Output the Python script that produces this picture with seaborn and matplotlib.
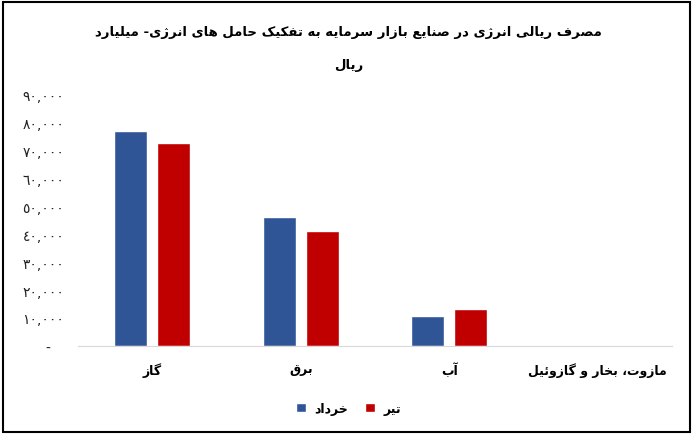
#! /usr/bin/env python
import matplotlib
matplotlib.use('Agg')
import matplotlib.pyplot as plt
import matplotlib.ticker as ticker
from matplotlib.patches import Rectangle, Patch
import seaborn as sns
import pandas as pd

# data (billion rials)
categories = ['گاز', 'برق', 'آب', 'مازوت، بخار و گازوئیل']
months = ['خرداد', 'تیر']
khordad = [77100, 46300, 10800, 0]
tir = [72700, 41100, 13200, 0]
title_lines = ['مصرف ریالی انرژی در صنایع بازار سرمایه به تفکیک حامل های انرژی- میلیارد', 'ریال']
colors = ['#2F5597', '#C00000']

# minimal arabic shaping (matplotlib has no complex text layout)
# letter: (isolated, final, initial, medial); right-joining letters have no initial/medial
FORMS = {
    'ا': ('\uFE8D', '\uFE8E', None, None),
    'آ': ('\uFE81', '\uFE82', None, None),
    'ب': ('\uFE8F', '\uFE90', '\uFE91', '\uFE92'),
    'ت': ('\uFE95', '\uFE96', '\uFE97', '\uFE98'),
    'ح': ('\uFEA1', '\uFEA2', '\uFEA3', '\uFEA4'),
    'خ': ('\uFEA5', '\uFEA6', '\uFEA7', '\uFEA8'),
    'د': ('\uFEA9', '\uFEAA', None, None),
    'ر': ('\uFEAD', '\uFEAE', None, None),
    'ز': ('\uFEAF', '\uFEB0', None, None),
    'ژ': ('\uFB8A', '\uFB8B', None, None),
    'س': ('\uFEB1', '\uFEB2', '\uFEB3', '\uFEB4'),
    'ص': ('\uFEB9', '\uFEBA', '\uFEBB', '\uFEBC'),
    'ع': ('\uFEC9', '\uFECA', '\uFECB', '\uFECC'),
    'ف': ('\uFED1', '\uFED2', '\uFED3', '\uFED4'),
    'ق': ('\uFED5', '\uFED6', '\uFED7', '\uFED8'),
    'ک': ('\uFB8E', '\uFB8F', '\uFB90', '\uFB91'),
    'گ': ('\uFB92', '\uFB93', '\uFB94', '\uFB95'),
    'ل': ('\uFEDD', '\uFEDE', '\uFEDF', '\uFEE0'),
    'م': ('\uFEE1', '\uFEE2', '\uFEE3', '\uFEE4'),
    'ن': ('\uFEE5', '\uFEE6', '\uFEE7', '\uFEE8'),
    'ه': ('\uFEE9', '\uFEEA', '\uFEEB', '\uFEEC'),
    'و': ('\uFEED', '\uFEEE', None, None),
    'ی': ('\uFBFC', '\uFBFD', '\uFBFE', '\uFBFF'),
    'ئ': ('\uFE89', '\uFE8A', '\uFE8B', '\uFE8C'),
}


def rtl(text):
    out = []
    for i, ch in enumerate(text):
        if ch not in FORMS:
            out.append(ch)
            continue
        iso, fin, ini, med = FORMS[ch]
        prev = text[i - 1] if i > 0 else ''
        nxt = text[i + 1] if i < len(text) - 1 else ''
        jp = prev in FORMS and FORMS[prev][2] is not None
        jn = ini is not None and nxt in FORMS
        if jp and jn:
            out.append(med)
        elif jp:
            out.append(fin)
        elif jn:
            out.append(ini)
        else:
            out.append(iso)
    return ''.join(out)[::-1]


def fa_num(v, pos):
    if v == 0:
        return '-   '
    return f'{int(v):,}'.translate(str.maketrans('0123456789', '٠١٢٣٤٥٦٧٨٩'))


df = pd.DataFrame({
    'cat': categories * 2,
    'month': [months[0]] * len(categories) + [months[1]] * len(categories),
    'value': khordad + tir,
})

sns.set_style('white')
plt.rcParams['font.family'] = ['DejaVu Sans']
plt.rcParams['text.color'] = 'black'
fig = plt.figure(figsize=(6.97, 4.39), dpi=100)
ax = fig.add_axes([0.112, 0.21, 0.852, 0.572])

sns.barplot(data=df, x='cat', y='value', hue='month', order=categories, hue_order=months,
            palette=colors, width=0.58, gap=0.23, saturation=1, ax=ax, legend=False)

ax.set_ylim(0, 90000)
ax.yaxis.set_major_locator(ticker.MultipleLocator(10000))
ax.yaxis.set_major_formatter(ticker.FuncFormatter(fa_num))
ax.set_xticks(range(len(categories)))
ax.set_xticklabels([rtl(c) for c in categories], fontweight='bold', fontsize=9)
ax.tick_params(axis='y', length=0, pad=10, labelsize=10, colors='#222222')
ax.tick_params(axis='x', length=0, pad=12, colors='black')
ax.set_xlabel('')
ax.set_ylabel('')
for s in ['left', 'top', 'right']:
    ax.spines[s].set_visible(False)
ax.spines['bottom'].set_color('#d9d9d9')

# title in two lines
fig.text(0.5, 0.925, rtl(title_lines[0]), ha='center', va='center', fontsize=9.5, fontweight='bold')
fig.text(0.5, 0.85, rtl(title_lines[1]), ha='center', va='center', fontsize=9.5, fontweight='bold')

handles = [Patch(facecolor=c) for c in colors]
fig.legend(handles, [rtl(m) for m in months], loc='center', bbox_to_anchor=(0.5, 0.068), ncol=2,
           frameon=False, handlelength=0.8, handleheight=0.8, handletextpad=0.7, columnspacing=1.3,
           prop={'weight': 'bold', 'size': 9})

# outer frame
fig.patches.append(Rectangle((3 / 697, 6 / 439), 687 / 697, 430 / 439, transform=fig.transFigure,
                             fill=False, edgecolor='black', linewidth=1.5))

fig.savefig('out.png', dpi=100)
